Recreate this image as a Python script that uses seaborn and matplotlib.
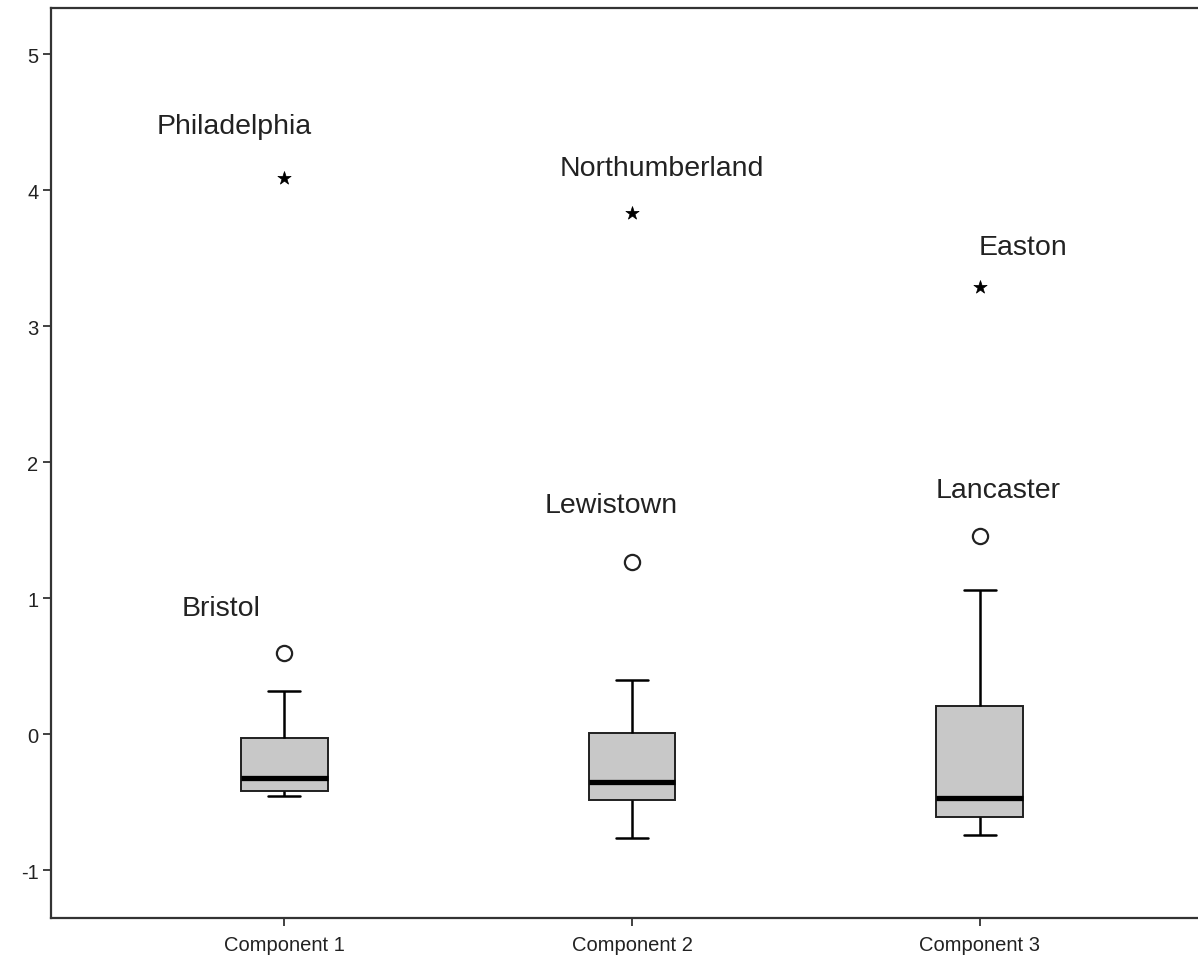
import matplotlib
matplotlib.use("Agg")
import matplotlib.pyplot as plt
import seaborn as sns
import pandas as pd

# ---- data ----
components = ["Component 1", "Component 2", "Component 3"]
# five-number summaries: whisker low, Q1, median, Q3, whisker high
comp1_summary = [-0.45, -0.42, -0.32, -0.03, 0.32]
comp2_summary = [-0.76, -0.48, -0.35, 0.01, 0.40]
comp3_summary = [-0.74, -0.61, -0.47, 0.21, 1.06]

outlier_labels = ["Bristol", "Lewistown", "Lancaster"]
outlier_components = ["Component 1", "Component 2", "Component 3"]
outlier_values = [0.60, 1.27, 1.46]

extreme_labels = ["Philadelphia", "Northumberland", "Easton"]
extreme_components = ["Component 1", "Component 2", "Component 3"]
extreme_values = [4.09, 3.83, 3.29]

y_ticks = [-1, 0, 1, 2, 3, 4, 5]

# ---- tables ----
box_df = pd.DataFrame({
    "component": [components[0]] * 5 + [components[1]] * 5 + [components[2]] * 5,
    "value": comp1_summary + comp2_summary + comp3_summary,
})
out_df = pd.DataFrame({"component": outlier_components, "value": outlier_values, "label": outlier_labels})
ext_df = pd.DataFrame({"component": extreme_components, "value": extreme_values, "label": extreme_labels})

sns.set_theme(style="white")
plt.rcParams["font.family"] = ["Liberation Sans", "DejaVu Sans"]

fig = plt.figure(figsize=(11.98, 9.62), dpi=100)
ax = fig.add_axes([51 / 1198, 43 / 962, 1162 / 1198, 910 / 962])

box_kw = dict(
    data=box_df, x="component", y="value", order=components,
    whis=(0, 100), width=0.25, showfliers=False,
    color="#c8c8c8", linecolor="black", linewidth=1.6,
    medianprops=dict(color="black", linewidth=3.8),
    whiskerprops=dict(color="black", linewidth=1.8),
    capprops=dict(color="black", linewidth=1.8),
    boxprops=dict(edgecolor="#202020", linewidth=1.4),
    ax=ax,
)
try:
    sns.boxplot(capwidths=0.09, **box_kw)
except TypeError:
    ax.cla()
    sns.boxplot(**box_kw)

sns.scatterplot(data=out_df, x="component", y="value", marker="o", s=120,
                facecolor="white", edgecolor="#222222", linewidth=1.6, ax=ax, zorder=5)
sns.scatterplot(data=ext_df, x="component", y="value", marker="*", s=100,
                color="black", edgecolor="black", linewidth=0.5, ax=ax, zorder=5)

# label offsets in pixels (text centre relative to the point)
label_offsets = {
    "Philadelphia": (-50, 52),
    "Northumberland": (30, 45),
    "Easton": (43, 40),
    "Bristol": (-63, 45),
    "Lewistown": (-21, 57),
    "Lancaster": (18, 46),
}
for df in (out_df, ext_df):
    for comp, val, lab in zip(df["component"], df["value"], df["label"]):
        xi = components.index(comp)
        ax.annotate(lab, xy=(xi, val), xytext=label_offsets[lab], textcoords="offset pixels",
                    ha="center", va="center", fontsize=20.5, color="#222222")

ax.set_xlim(-0.67, 2.67)
ax.set_ylim(-1.35, 5.34)
ax.set_yticks(y_ticks)
ax.set_yticklabels([str(t) for t in y_ticks])
ax.set_xlabel("")
ax.set_ylabel("")

for side in ["left", "bottom", "top", "right"]:
    ax.spines[side].set_color("#333333")
    ax.spines[side].set_linewidth(1.6)

ax.tick_params(axis="both", direction="out", length=6, width=1.3, color="#333333",
               labelsize=14.5, labelcolor="#222222", left=True, bottom=True)
ax.tick_params(axis="x", pad=6)
ax.tick_params(axis="y", pad=3)

fig.savefig("out.png", dpi=100)
